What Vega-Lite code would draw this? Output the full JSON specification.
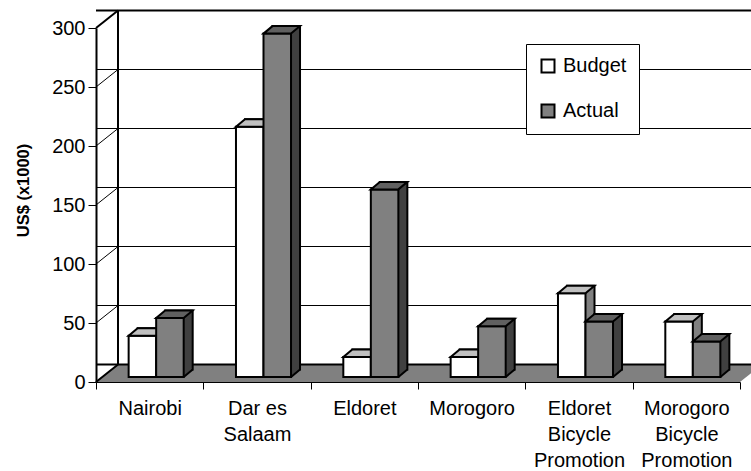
{
  "$schema": "https://vega.github.io/schema/vega-lite/v6.json",
  "width": 644,
  "height": 354,
  "autosize": {"type": "none"},
  "padding": {"left": 96, "top": 28, "right": 11, "bottom": 89},
  "background": "white",
  "config": {
    "font": "Liberation Sans",
    "view": {"stroke": null},
    "axis": {"domainColor": "black", "tickColor": "black", "labelColor": "black", "titleColor": "black", "grid": false, "zindex": 1, "labelFont": "Liberation Sans", "titleFont": "Liberation Sans"},
    "axisY": {"domainWidth": 2, "tickSize": 8, "tickWidth": 1, "labelFontSize": 20, "labelPadding": 3, "titleFontSize": 16.5, "titleFontWeight": "bold", "titleX": -73, "titleY": 162, "titleAngle": -90, "titleAlign": "center", "titleBaseline": "middle"},
    "axisX": {"domainWidth": 1, "tickSize": 7, "tickWidth": 1, "tickBand": "extent", "labelFontSize": 20, "labelPadding": 9, "labelLineHeight": 26, "labelAngle": 0, "labelOverlap": false},
    "legend": {"orient": "none", "legendX": 430, "legendY": 16, "strokeColor": "black", "fillColor": "white", "padding": 12, "symbolType": "square", "symbolSize": 169, "symbolStrokeColor": "black", "symbolStrokeWidth": 2, "labelFont": "Liberation Sans", "labelFontSize": 20, "labelOffset": 5, "rowPadding": 23, "labelColor": "black"}
  },
  "datasets": {
    "bars": [
      {"category": "Nairobi", "series": "Budget", "value": 35},
      {"category": "Nairobi", "series": "Actual", "value": 50},
      {"category": "Dar es Salaam", "series": "Budget", "value": 212},
      {"category": "Dar es Salaam", "series": "Actual", "value": 291},
      {"category": "Eldoret", "series": "Budget", "value": 17},
      {"category": "Eldoret", "series": "Actual", "value": 159},
      {"category": "Morogoro", "series": "Budget", "value": 17},
      {"category": "Morogoro", "series": "Actual", "value": 43},
      {"category": "Eldoret Bicycle Promotion", "series": "Budget", "value": 71},
      {"category": "Eldoret Bicycle Promotion", "series": "Actual", "value": 47},
      {"category": "Morogoro Bicycle Promotion", "series": "Budget", "value": 47},
      {"category": "Morogoro Bicycle Promotion", "series": "Actual", "value": 30}
    ],
    "grid": [{"v": 0}, {"v": 50}, {"v": 100}, {"v": 150}, {"v": 200}, {"v": 250}, {"v": 300}]
  },
  "layer": [
    {
      "data": {"name": "grid"},
      "transform": [{"filter": "datum.v == 0"}],
      "mark": {"type": "point", "shape": "M -3.22 0 L 3.22 0 L 3.44 -0.175 L -3 -0.175 Z", "size": 40000, "filled": true, "fill": "#808080", "opacity": 1, "strokeWidth": 0},
      "encoding": {
        "x": {"datum": "Eldoret", "type": "nominal", "bandPosition": 1, "title": null, "scale": {"domain": ["Nairobi", "Dar es Salaam", "Eldoret", "Morogoro", "Eldoret Bicycle Promotion", "Morogoro Bicycle Promotion"], "paddingInner": 0, "paddingOuter": 0}},
        "y": {"field": "v", "type": "quantitative", "title": "US$ (x1000)", "scale": {"domain": [0, 300], "nice": false}}
      }
    },
    {
      "data": {"name": "grid"},
      "mark": {"type": "rule", "color": "black", "xOffset": 22, "x2Offset": 22, "yOffset": -17.5},
      "encoding": {
        "y": {"field": "v", "type": "quantitative", "title": "US$ (x1000)", "scale": {"domain": [0, 300], "nice": false}},
        "strokeWidth": {"condition": {"test": "datum.v == 0 || datum.v == 300", "value": 2}, "value": 1}
      }
    },
    {
      "data": {"name": "grid"},
      "mark": {"type": "rule", "color": "black", "x2Offset": 22, "y2Offset": -17.5},
      "encoding": {
        "x": {"datum": "Nairobi", "type": "nominal", "bandPosition": 0, "title": null},
        "x2": {"datum": "Nairobi", "bandPosition": 0},
        "y": {"field": "v", "type": "quantitative", "title": "US$ (x1000)", "scale": {"domain": [0, 300], "nice": false}},
        "y2": {"field": "v"},
        "strokeWidth": {"condition": {"test": "datum.v == 0 || datum.v == 300", "value": 2}, "value": 1}
      }
    },
    {
      "data": {"name": "grid"},
      "transform": [{"filter": "datum.v == 300"}],
      "mark": {"type": "rule", "color": "black", "strokeWidth": 2, "xOffset": 22, "yOffset": -17.5, "y2Offset": -17.5},
      "encoding": {
        "x": {"datum": "Nairobi", "type": "nominal", "bandPosition": 0, "title": null},
        "y": {"field": "v", "type": "quantitative", "title": "US$ (x1000)", "scale": {"domain": [0, 300], "nice": false}, "axis": {"values": [0, 50, 100, 150, 200, 250, 300]}},
        "y2": {"datum": 0}
      }
    },
    {
      "data": {"name": "bars"},
      "transform": [{"filter": "datum.series == 'Budget'"}],
      "layer": [
        {
          "mark": {"type": "bar", "width": 27.52, "fill": "#808080", "stroke": "black", "strokeWidth": 2, "xOffset": 1.74, "yOffset": -12.5, "y2Offset": -12.5, "opacity": 1},
          "encoding": {"y": {"field": "value", "type": "quantitative", "title": "US$ (x1000)"}}
        },
        {
          "mark": {"type": "point", "shape": "M 1.376 0 L 2.176 -0.667 L 2.176 -0.9 L 1.376 -0.9 Z", "size": 400, "filled": true, "fill": "#808080", "opacity": 1, "strokeWidth": 0, "xOffset": -7.26, "yOffset": -5},
          "encoding": {"y": {"datum": 0, "type": "quantitative", "title": "US$ (x1000)"}}
        },
        {
          "mark": {"type": "point", "shape": "M 1.376 0 L 2.276 -0.75", "size": 400, "filled": false, "fill": null, "stroke": "black", "strokeWidth": 2, "opacity": 1, "xOffset": -7.26, "yOffset": -5},
          "encoding": {"y": {"datum": 0, "type": "quantitative", "title": "US$ (x1000)"}}
        },
        {
          "mark": {"type": "bar", "width": 27.52, "stroke": "black", "strokeWidth": 2, "xOffset": -7.26, "yOffset": -5, "y2Offset": -5, "opacity": 1},
          "encoding": {
            "y": {"field": "value", "type": "quantitative", "title": "US$ (x1000)"},
            "color": {"field": "series", "type": "nominal", "scale": {"domain": ["Budget", "Actual"], "range": ["#FFFFFF", "#808080"]}, "legend": {"title": null}}
          }
        },
        {
          "mark": {"type": "point", "shape": "M -1.376 0 L 1.376 0 L 2.276 -0.75 L -0.476 -0.75 Z", "size": 400, "filled": true, "fill": "#C0C0C0", "stroke": "black", "strokeWidth": 2, "opacity": 1, "xOffset": -7.26, "yOffset": -5},
          "encoding": {"y": {"field": "value", "type": "quantitative", "title": "US$ (x1000)"}}
        }
      ],
      "encoding": {
        "x": {"field": "category", "type": "nominal", "title": null, "scale": {"domain": ["Nairobi", "Dar es Salaam", "Eldoret", "Morogoro", "Eldoret Bicycle Promotion", "Morogoro Bicycle Promotion"], "paddingInner": 0, "paddingOuter": 0}, "axis": {"labelExpr": "datum.label == 'Dar es Salaam' ? ['Dar es', 'Salaam'] : split(datum.label, ' ')"}}
      }
    },
    {
      "data": {"name": "bars"},
      "transform": [{"filter": "datum.series == 'Actual'"}],
      "layer": [
        {
          "mark": {"type": "bar", "width": 27.52, "fill": "#404040", "stroke": "black", "strokeWidth": 2, "xOffset": 29.26, "yOffset": -12.5, "y2Offset": -12.5, "opacity": 1},
          "encoding": {"y": {"field": "value", "type": "quantitative", "title": "US$ (x1000)"}}
        },
        {
          "mark": {"type": "point", "shape": "M 1.376 0 L 2.176 -0.667 L 2.176 -0.9 L 1.376 -0.9 Z", "size": 400, "filled": true, "fill": "#404040", "opacity": 1, "strokeWidth": 0, "xOffset": 20.26, "yOffset": -5},
          "encoding": {"y": {"datum": 0, "type": "quantitative", "title": "US$ (x1000)"}}
        },
        {
          "mark": {"type": "point", "shape": "M 1.376 0 L 2.276 -0.75", "size": 400, "filled": false, "fill": null, "stroke": "black", "strokeWidth": 2, "opacity": 1, "xOffset": 20.26, "yOffset": -5},
          "encoding": {"y": {"datum": 0, "type": "quantitative", "title": "US$ (x1000)"}}
        },
        {
          "mark": {"type": "bar", "width": 27.52, "stroke": "black", "strokeWidth": 2, "xOffset": 20.26, "yOffset": -5, "y2Offset": -5, "opacity": 1},
          "encoding": {
            "y": {"field": "value", "type": "quantitative", "title": "US$ (x1000)"},
            "color": {"field": "series", "type": "nominal", "scale": {"domain": ["Budget", "Actual"], "range": ["#FFFFFF", "#808080"]}, "legend": {"title": null}}
          }
        },
        {
          "mark": {"type": "point", "shape": "M -1.376 0 L 1.376 0 L 2.276 -0.75 L -0.476 -0.75 Z", "size": 400, "filled": true, "fill": "#606060", "stroke": "black", "strokeWidth": 2, "opacity": 1, "xOffset": 20.26, "yOffset": -5},
          "encoding": {"y": {"field": "value", "type": "quantitative", "title": "US$ (x1000)"}}
        }
      ],
      "encoding": {
        "x": {"field": "category", "type": "nominal", "title": null, "scale": {"domain": ["Nairobi", "Dar es Salaam", "Eldoret", "Morogoro", "Eldoret Bicycle Promotion", "Morogoro Bicycle Promotion"], "paddingInner": 0, "paddingOuter": 0}}
      }
    }
  ]
}
